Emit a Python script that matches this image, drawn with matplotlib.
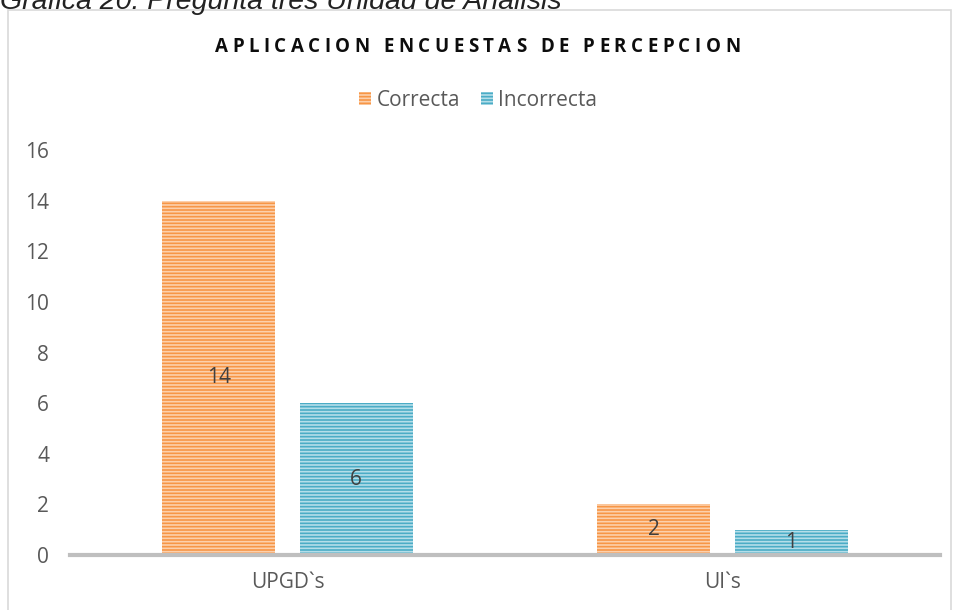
import numpy as np
import matplotlib
matplotlib.use("Agg")
import matplotlib.pyplot as plt
from matplotlib.patches import Rectangle
from matplotlib.font_manager import FontProperties

# ---- datos ----------------------------------------------------------------
categorias = ["UPGD`s", "UI`s"]
series = ["Correcta", "Incorrecta"]
correcta = [14, 2]
incorrecta = [6, 1]
ticks_y = [0, 2, 4, 6, 8, 10, 12, 14, 16]
titulo = "APLICACION ENCUESTAS DE PERCEPCION"
leyenda_fig = "Gráfica 20: Pregunta tres Unidad de Análisis"

COL_BASE = ["#F79646", "#4BACC6"]
COL_RAYA = ["#FCD0AC", "#B4DEE9"]
GRIS = "#595959"
FS = 15

plt.rcParams["font.family"] = ["Open Sans", "DejaVu Sans"]
plt.rcParams["hatch.linewidth"] = 1.2

fig = plt.figure(figsize=(9.56, 6.10), dpi=100)

# marco del gráfico
fig.patches.append(Rectangle((8 / 956, -0.05), 0.995 - 8 / 956, 1 - 10 / 610 + 0.05,
                             transform=fig.transFigure, fill=False,
                             edgecolor="#D9D9D9", lw=1.2))

# leyenda de la figura (cortada arriba, como en el documento)
fig.text(0.0, 1 - 9 / 610, leyenda_fig,
         family="Liberation Sans", style="italic", fontsize=20.5,
         color="#222222", va="baseline", ha="left")

ax = fig.add_axes([70 / 956, 1 - 555 / 610, (940 - 70) / 956, (555 - 150) / 610])

x = np.arange(len(categorias))
ancho = 0.26
desp = 0.158
for i, (nombre, valores) in enumerate(zip(series, [correcta, incorrecta])):
    pos = x + (-desp if i == 0 else desp)
    barras = ax.bar(pos, valores, ancho, color=COL_BASE[i],
                    edgecolor=COL_RAYA[i], linewidth=0, hatch="-----",
                    label=nombre, zorder=2)
    for b, v in zip(barras, valores):
        ax.text(b.get_x() + b.get_width() / 2, v / 2, str(v), ha="center",
                va="center", fontsize=FS, color="#404040", zorder=3)

ax.set_xlim(-0.5, 1.5)
ax.set_ylim(0, 16)
ax.set_yticks(ticks_y)
ax.set_xticks(x)
ax.set_xticklabels(categorias)
ax.tick_params(axis="both", length=0, labelsize=FS, colors=GRIS)
ax.tick_params(axis="y", pad=15)
ax.tick_params(axis="x", pad=12)
for s in ["top", "right", "left"]:
    ax.spines[s].set_visible(False)
ax.spines["bottom"].set_color("#BFBFBF")
ax.spines["bottom"].set_linewidth(3)
ax.spines["bottom"].set_zorder(4)

# título con espaciado entre letras (letra por letra)
fp = FontProperties(family="Open Sans", weight="bold", size=13.5)
renderer = fig.canvas.get_renderer()
anchos = []
for c in titulo:
    if c == " ":
        anchos.append(fp.get_size_in_points() * 0.26 * 100 / 72)
    else:
        anchos.append(renderer.get_text_width_height_descent(c, fp, ismath=False)[0])
x0, x1 = 215, 740
tracking = ((x1 - x0) - sum(anchos)) / (len(titulo) - 1)
xp = x0
for c, w in zip(titulo, anchos):
    if c != " ":
        fig.text(xp / 956, 1 - 47 / 610, c, fontproperties=fp, ha="left",
                 va="center", color="#0D0D0D")
    xp += w + tracking

ax.legend(loc="center", bbox_to_anchor=(0.5, 1 - 100 / 610),
          bbox_transform=fig.transFigure, ncol=2, frameon=False,
          fontsize=FS, labelcolor=GRIS, handlelength=0.6, handleheight=0.6,
          handletextpad=0.25, columnspacing=1.0)

fig.savefig("out.png", dpi=100)
